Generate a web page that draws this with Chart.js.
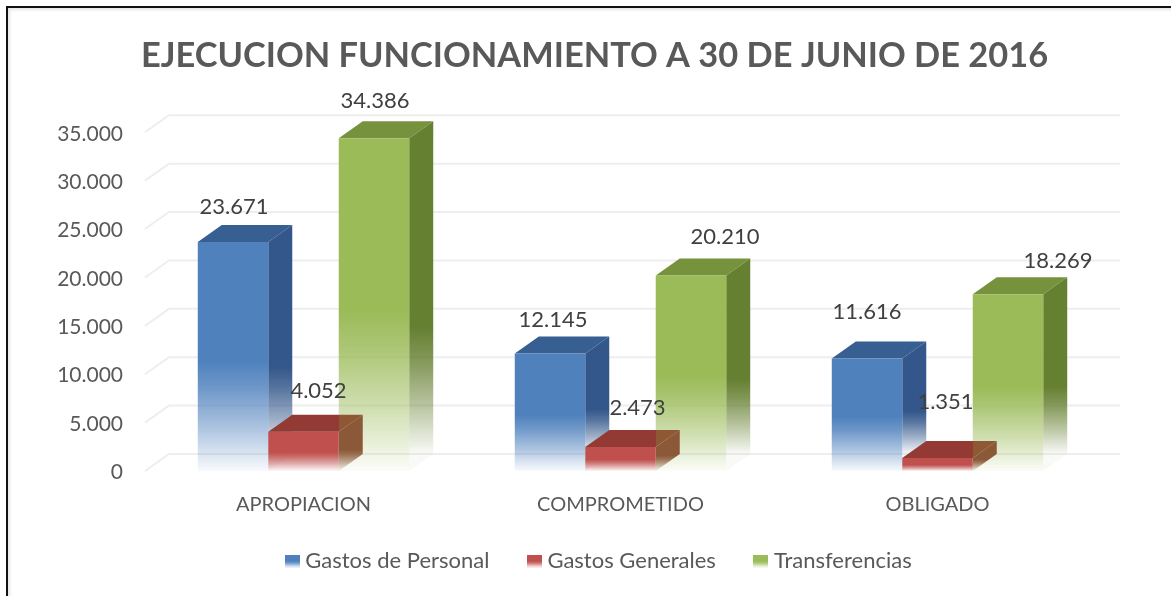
<!DOCTYPE html>
<html>
<head>
<meta charset="utf-8">
<script src="https://cdn.jsdelivr.net/npm/chart.js@4"></script>
<style>
  html, body { margin: 0; padding: 0; background: #fff; }
  #wrap { position: relative; width: 1172px; height: 596px; overflow: hidden; }
  #wrap:after { content: ''; position: absolute; left: 6px; top: 6px; right: 1px; bottom: -6px;
    border-top: 2px solid #111; border-left: 2px solid #111;
    box-shadow: inset 2px 2px 3px #e6e6e6; pointer-events: none; }
</style>
</head>
<body>
<div id="wrap"><canvas id="chart" width="1172" height="596"></canvas></div>
<script>
const categories = ['APROPIACION', 'COMPROMETIDO', 'OBLIGADO'];
const gastosPersonal = [23671, 12145, 11616];
const gastosGenerales = [4052, 2473, 1351];
const transferencias = [34386, 20210, 18269];
const yTicks = [0, 5000, 10000, 15000, 20000, 25000, 30000, 35000];

// how far each value label sits from its bar (one row per series)
const labelNudges = [
  [[1, -35], [3, -34], [0, -47]],
  [[15, -41], [17, -39], [8, -56]],
  [[1, -37], [34, -39], [50, -33]]
];

const FONT = 'Lato, "Open Sans", sans-serif';
const TEXT = '#595959';
const DEPTH_X = 24;
const DEPTH_Y = -17;

const fmt = v => String(v).replace(/\B(?=(\d{3})+$)/g, '.');

function rgba(c, a) {
  return 'rgba(' + c[0] + ',' + c[1] + ',' + c[2] + ',' + a + ')';
}

// solid down to "start", then fading out towards the floor
function fade(ctx, y0, y1, c, start = 0.52) {
  const rest = 1 - start;
  const g = ctx.createLinearGradient(0, y0, 0, y1);
  g.addColorStop(0, rgba(c, 1));
  g.addColorStop(start, rgba(c, 1));
  g.addColorStop(start + rest * 0.25, rgba(c, 0.82));
  g.addColorStop(start + rest * 0.6, rgba(c, 0.48));
  g.addColorStop(1, rgba(c, 0.04));
  return g;
}

function swatch(c) {
  const el = document.createElement('canvas');
  el.width = 15;
  el.height = 13;
  const x = el.getContext('2d');
  x.fillStyle = fade(x, 0, 13, c);
  x.fillRect(0, 0, 15, 13);
  return el;
}

const BLUE = [79, 129, 189], RED = [192, 80, 77], GREEN = [155, 187, 89];
const faces = [
  { top: [56, 95, 146], side: [51, 87, 138], over: null },
  { top: [147, 58, 53], side: [139, 88, 56], over: [143, 88, 52] },
  { top: [118, 146, 60], side: [102, 128, 50], over: null }
];

function frontFill(color) {
  return c => {
    if (c.type !== 'data') return rgba(color, 1);
    const y = c.chart.scales.y;
    return fade(c.chart.ctx, y.getPixelForValue(c.parsed.y), y.getPixelForValue(0), color);
  };
}

function drawFaces(chart, index) {
  const ctx = chart.ctx, yScale = chart.scales.y, f = faces[index];
  chart.getDatasetMeta(index).data.forEach(bar => {
    const l = bar.x - bar.width / 2, r = bar.x + bar.width / 2;
    const top = bar.y, base = yScale.getPixelForValue(0);

    let topFill = rgba(f.top, 1);
    if (f.over) {
      // the part lying in front of the next bar looks browner
      const g = ctx.createLinearGradient(l, 0, r + DEPTH_X, 0);
      const stop = bar.width / (bar.width + DEPTH_X);
      g.addColorStop(0, rgba(f.top, 1));
      g.addColorStop(stop, rgba(f.top, 1));
      g.addColorStop(stop, rgba(f.over, 1));
      g.addColorStop(1, rgba(f.over, 1));
      topFill = g;
    }
    ctx.fillStyle = topFill;
    ctx.beginPath();
    ctx.moveTo(l, top);
    ctx.lineTo(l + DEPTH_X, top + DEPTH_Y);
    ctx.lineTo(r + DEPTH_X, top + DEPTH_Y);
    ctx.lineTo(r, top);
    ctx.closePath();
    ctx.fill();

    // the short red bars keep their side visible right down to the floor
    const sideEnd = f.over ? base : base + DEPTH_Y;
    ctx.fillStyle = fade(ctx, top + DEPTH_Y, sideEnd, f.side, 0.62);
    ctx.beginPath();
    ctx.moveTo(r, top);
    ctx.lineTo(r + DEPTH_X, top + DEPTH_Y);
    ctx.lineTo(r + DEPTH_X, base + DEPTH_Y);
    ctx.lineTo(r, base);
    ctx.closePath();
    ctx.fill();
  });
}

const walls = {
  id: 'walls',
  afterLayout(chart) {
    // title and legend are not centred on the canvas in the original
    chart.titleBlock.left += 8.5;
    chart.titleBlock.right += 8.5;
    const lg = chart.legend;
    lg.left = 28;
    lg.right = 1174;
    lg.top = 507;
  },
  beforeDatasetsDraw(chart) {
    const ctx = chart.ctx, area = chart.chartArea, y = chart.scales.y;
    ctx.save();
    ctx.strokeStyle = '#eeeeee';
    ctx.lineWidth = 2;
    yTicks.forEach(t => {
      const py = y.getPixelForValue(t);
      ctx.beginPath();
      ctx.moveTo(area.left, py);
      ctx.lineTo(area.left + DEPTH_X, py + DEPTH_Y);
      ctx.lineTo(area.right + DEPTH_X, py + DEPTH_Y);
      ctx.stroke();
    });
    ctx.restore();
    drawFaces(chart, 2);
    drawFaces(chart, 0);
  },
  afterDatasetsDraw(chart) {
    const ctx = chart.ctx;
    drawFaces(chart, 1);
    ctx.save();
    ctx.font = '22px ' + FONT;
    ctx.fillStyle = '#404040';
    ctx.textAlign = 'center';
    ctx.textBaseline = 'middle';
    chart.data.datasets.forEach((ds, i) => {
      chart.getDatasetMeta(i).data.forEach((bar, j) => {
        const n = labelNudges[i][j];
        ctx.fillText(fmt(ds.data[j]), bar.x + n[0], bar.y + n[1]);
      });
    });
    ctx.restore();
  }
};

new Chart(document.getElementById('chart'), {
  type: 'bar',
  data: {
    labels: categories,
    datasets: [
      { label: 'Gastos de Personal', data: gastosPersonal, backgroundColor: frontFill(BLUE) },
      { label: 'Gastos Generales', data: gastosGenerales, backgroundColor: frontFill(RED) },
      { label: 'Transferencias', data: transferencias, backgroundColor: frontFill(GREEN) }
    ]
  },
  plugins: [walls],
  options: {
    responsive: false,
    animation: false,
    categoryPercentage: 0.667,
    barPercentage: 1,
    layout: { padding: 0 },
    scales: {
      x: {
        grid: { display: false, drawTicks: false },
        border: { display: false },
        ticks: { color: TEXT, font: { family: FONT, size: 20 }, padding: 22, maxRotation: 0 },
        afterFit(s) { s.height = 53; s.paddingRight = 76; }
      },
      y: {
        min: 0,
        max: 35000,
        grid: { display: false, drawTicks: false },
        border: { display: false },
        afterBuildTicks(s) { s.ticks = yTicks.map(v => ({ value: v })); },
        ticks: { color: TEXT, font: { family: FONT, size: 21 }, padding: 22, labelOffset: 1.5, callback: fmt },
        afterFit(s) { s.width = 145; }
      }
    },
    plugins: {
      tooltip: { enabled: false },
      title: {
        display: true,
        text: 'EJECUCION FUNCIONAMIENTO A 30 DE JUNIO DE 2016',
        color: TEXT,
        font: { family: FONT, size: 34.4, weight: 'bold' },
        padding: { top: 35, bottom: 56 }
      },
      legend: {
        position: 'bottom',
        maxHeight: 72,
        labels: {
          color: TEXT,
          font: { family: FONT, size: 22 },
          usePointStyle: true,
          pointStyleWidth: 4,
          padding: 43,
          generateLabels() {
            return [BLUE, RED, GREEN].map((c, i) => ({
              text: ['Gastos de Personal', 'Gastos Generales', 'Transferencias'][i],
              fontColor: TEXT,
              pointStyle: swatch(c),
              datasetIndex: i,
              lineWidth: 0
            }));
          }
        }
      }
    }
  }
});
</script>
</body>
</html>
